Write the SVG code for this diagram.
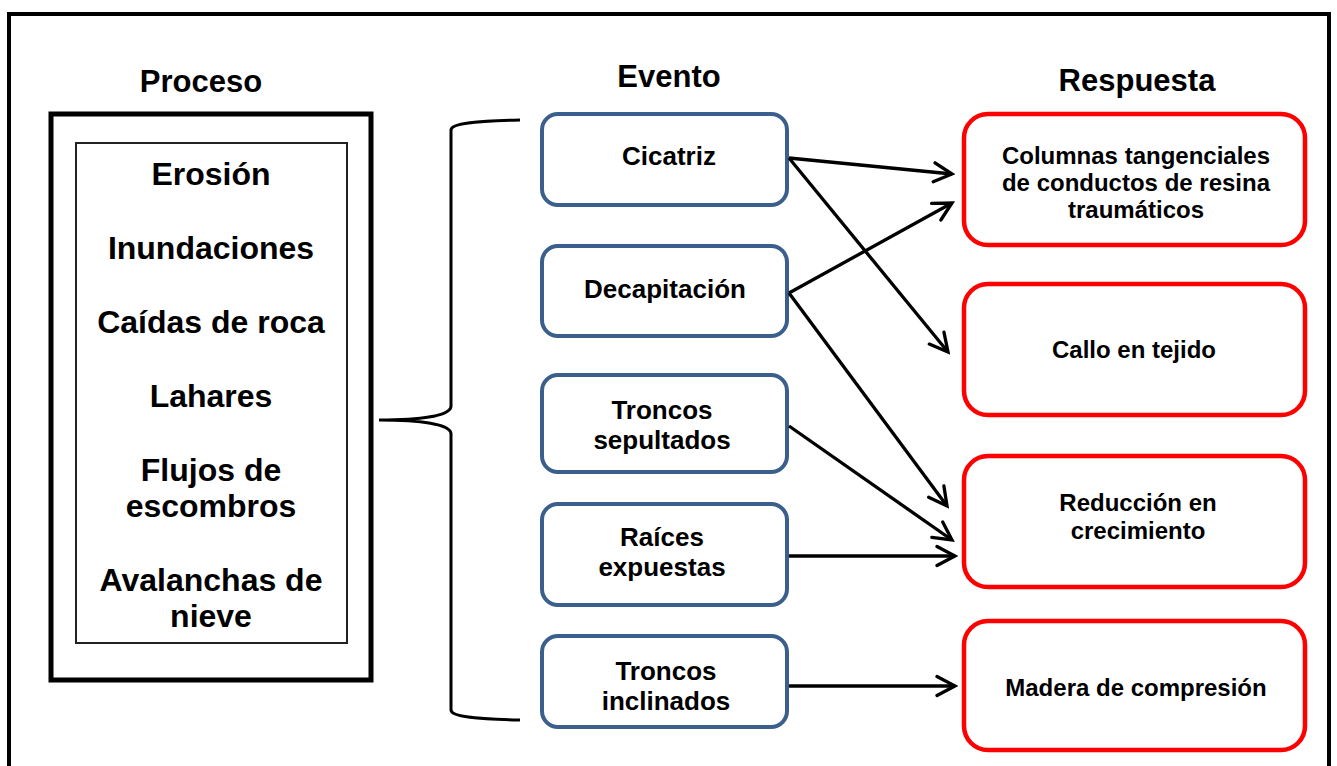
<svg xmlns="http://www.w3.org/2000/svg" width="1337" height="766" viewBox="0 0 1337 766">
<style>
text{font-family:"Liberation Sans",Arial,sans-serif;font-weight:bold;fill:#000;text-anchor:middle}
.title{font-size:31px}
.proc{font-size:32px}
.ev{font-size:26px}
.resp{font-size:24px}
.evbox{fill:#fff;stroke:#3B5F8D;stroke-width:4}
.rbox{fill:#fff;stroke:#FF0000;stroke-width:4.5}
.conn{fill:none;stroke:#000;stroke-width:3.3;marker-end:url(#arr)}
</style>
<defs>
<marker id="arr" viewBox="0 0 24 24" refX="21" refY="12" markerWidth="24" markerHeight="24" markerUnits="userSpaceOnUse" orient="auto">
<path d="M3,2.5 L21,12 L3,21.5" fill="none" stroke="#000" stroke-width="3.3" stroke-linecap="round" stroke-linejoin="miter"/>
</marker>
</defs>
<rect width="1337" height="766" fill="#fff"/>
<path d="M9,780 L9,14 L1329,14 L1329,780" fill="none" stroke="#000" stroke-width="4"/>
<g id="titles">
<text class="title" x="201" y="92">Proceso</text>
<text class="title" x="669" y="87">Evento</text>
<text class="title" x="1137" y="91">Respuesta</text>
</g>
<g id="proceso">
<rect x="51" y="114" width="320" height="566" fill="#fff" stroke="#000" stroke-width="5"/>
<rect x="76" y="143" width="271" height="500" fill="#fff" stroke="#222" stroke-width="2"/>
<text class="proc" x="211" y="185">Erosión</text>
<text class="proc" x="211" y="259">Inundaciones</text>
<text class="proc" x="211" y="333">Caídas de roca</text>
<text class="proc" x="211" y="407">Lahares</text>
<text class="proc" x="211" y="481">Flujos de</text>
<text class="proc" x="211" y="517">escombros</text>
<text class="proc" x="211" y="591">Avalanchas de</text>
<text class="proc" x="211" y="627">nieve</text>
</g>
<g id="brace">
<path d="M520,120 C478,121 451,123 451,130 L451,406 C451,416 420,420 379,420 C420,420 451,424 451,434 L451,710 C451,717 478,719 520,720" fill="none" stroke="#000" stroke-width="3"/>
</g>
<g id="ev-cicatriz">
<rect class="evbox" x="542" y="114" width="245" height="91" rx="16"/>
<text class="ev" x="669" y="165">Cicatriz</text>
</g>
<g id="ev-decapitacion">
<rect class="evbox" x="542" y="246" width="245" height="90" rx="16"/>
<text class="ev" x="665" y="298">Decapitación</text>
</g>
<g id="ev-sepultados">
<rect class="evbox" x="542" y="375" width="245" height="97" rx="16"/>
<text class="ev" x="662" y="419">Troncos</text>
<text class="ev" x="662" y="449">sepultados</text>
</g>
<g id="ev-raices">
<rect class="evbox" x="542" y="504" width="245" height="101" rx="16"/>
<text class="ev" x="662" y="546">Raíces</text>
<text class="ev" x="662" y="576">expuestas</text>
</g>
<g id="ev-inclinados">
<rect class="evbox" x="542" y="636" width="245" height="91" rx="16"/>
<text class="ev" x="666" y="680">Troncos</text>
<text class="ev" x="666" y="710">inclinados</text>
</g>
<g id="r-columnas">
<rect class="rbox" x="964" y="114" width="341" height="131" rx="24"/>
<text class="resp" x="1136" y="164">Columnas tangenciales</text>
<text class="resp" x="1136" y="191">de conductos de resina</text>
<text class="resp" x="1136" y="218">traumáticos</text>
</g>
<g id="r-callo">
<rect class="rbox" x="964" y="284" width="341" height="131" rx="24"/>
<text class="resp" x="1134" y="358">Callo en tejido</text>
</g>
<g id="r-reduccion">
<rect class="rbox" x="964" y="456" width="341" height="131" rx="24"/>
<text class="resp" x="1138" y="511">Reducción en</text>
<text class="resp" x="1138" y="539">crecimiento</text>
</g>
<g id="r-madera">
<rect class="rbox" x="964" y="621" width="341" height="129" rx="24"/>
<text class="resp" x="1136" y="696">Madera de compresión</text>
</g>
<g id="connectors">
<path class="conn" d="M789,158 L952,174"/>
<path class="conn" d="M789,158 L948,352"/>
<path class="conn" d="M789,293 L952,203"/>
<path class="conn" d="M789,293 L947,506"/>
<path class="conn" d="M789,426 L952,540"/>
<path class="conn" d="M789,556 L955,556"/>
<path class="conn" d="M789,686 L955,686"/>
</g>
</svg>
